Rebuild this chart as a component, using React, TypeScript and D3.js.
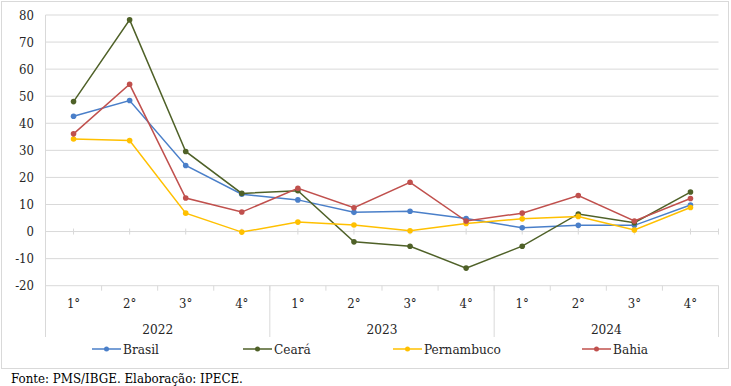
import * as d3 from "d3";

const years = ["2022", "2023", "2024"];
const quarters = ["1°", "2°", "3°", "4°"];
const yTicks = [-20, -10, 0, 10, 20, 30, 40, 50, 60, 70, 80];

const brasil = [42.6, 48.4, 24.4, 13.8, 11.7, 7.1, 7.5, 4.8, 1.4, 2.3, 2.3, 9.8];
const ceara = [48.0, 78.2, 29.6, 14.1, 15.1, -3.8, -5.4, -13.5, -5.4, 6.5, 3.3, 14.6];
const pernambuco = [34.2, 33.6, 6.8, -0.2, 3.5, 2.4, 0.3, 3.0, 4.7, 5.6, 0.6, 8.9];
const bahia = [36.1, 54.4, 12.4, 7.2, 16.0, 8.8, 18.2, 3.9, 6.8, 13.3, 3.9, 12.2];

const series = [
  { name: "Brasil", values: brasil, color: "#4a7fc9" },
  { name: "Ceará", values: ceara, color: "#4f6128" },
  { name: "Pernambuco", values: pernambuco, color: "#ffc000" },
  { name: "Bahia", values: bahia, color: "#c0504d" },
];

const legendX = [92, 243, 393, 582];

export default function App() {
  const width = 731;
  const height = 386;
  const left = 45.5;
  const right = 718.5;
  const serif = {
    fontFamily: "'DejaVu Serif Condensed', 'DejaVu Serif', serif",
    fontStretch: "condensed",
  };
  const grid = "#d9d9d9";
  const text = "#262626";

  const keys = years.flatMap((y) => quarters.map((q) => `${y}-${q}`));
  const x = d3.scaleBand().domain(keys).range([left, right]);
  const y = d3.scaleLinear().domain([-20, 80]).range([285.7, 15]);
  const bw = x.bandwidth();
  const cx = (i: number) => (x(keys[i]) as number) + bw / 2;

  const line = d3
    .line<number>()
    .x((_, i) => cx(i))
    .y((d) => y(d));

  const yearBounds = [0, 4, 8, 12].map((i) => left + i * bw);

  return (
    <svg
      width={width}
      height={height}
      style={{ position: "absolute", left: 0, top: 0 }}
    >
      <rect x={0} y={0} width={width} height={height} fill="#fff" />
      <rect x={1.5} y={1.5} width={727} height={367} fill="none" stroke={grid} />

      {yTicks.map((t) => (
        <g key={t}>
          <line x1={left} x2={right} y1={y(t)} y2={y(t)} stroke={grid} />
          <text
            x={34}
            y={y(t)}
            dy="0.35em"
            textAnchor="end"
            fontSize={13}
            fill={text}
            style={serif}
          >
            {t}
          </text>
        </g>
      ))}

      <line x1={left} x2={left} y1={y(80)} y2={337} stroke={grid} />
      {yearBounds.map((b, i) => (
        <line key={i} x1={b} x2={b} y1={y(-20)} y2={337} stroke={grid} />
      ))}
      {d3.range(13).map((i) => (
        <line
          key={i}
          x1={left + i * bw}
          x2={left + i * bw}
          y1={y(-20)}
          y2={y(-20) + 5}
          stroke={grid}
        />
      ))}
      {keys.map((_, i) => (
        <line
          key={i}
          x1={cx(i)}
          x2={cx(i)}
          y1={y(0) - 3}
          y2={y(0) + 3}
          stroke={grid}
        />
      ))}
      <line x1={right} x2={right} y1={y(0) - 3} y2={y(0) + 3} stroke={grid} />

      {keys.map((k, i) => (
        <text
          key={k}
          x={cx(i)}
          y={303}
          dy="0.35em"
          textAnchor="middle"
          fontSize={13}
          fill={text}
          style={serif}
        >
          {quarters[i % 4]}
        </text>
      ))}
      {years.map((yr, i) => (
        <text
          key={yr}
          x={(yearBounds[i] + yearBounds[i + 1]) / 2}
          y={329}
          dy="0.35em"
          textAnchor="middle"
          fontSize={13.5}
          fill={text}
          style={serif}
        >
          {yr}
        </text>
      ))}

      {series.map((s) => (
        <g key={s.name}>
          <path
            d={line(s.values) as string}
            fill="none"
            stroke={s.color}
            strokeWidth={1.5}
          />
          {s.values.map((v, i) => (
            <circle key={i} cx={cx(i)} cy={y(v)} r={2.8} fill={s.color} />
          ))}
        </g>
      ))}

      {series.map((s, i) => (
        <g key={s.name} transform={`translate(${legendX[i]},349)`}>
          <line x1={0} x2={29} y1={0} y2={0} stroke={s.color} strokeWidth={1.5} />
          <circle cx={14.5} cy={0} r={2.5} fill={s.color} />
          <text x={31} y={0} dy="0.35em" fontSize={13.5} fill={text} style={serif}>
            {s.name}
          </text>
        </g>
      ))}

      <text x={11} y={378} dy="0.35em" fontSize={13.2} fill="#000" style={serif}>
        Fonte: PMS/IBGE. Elaboração: IPECE.
      </text>
    </svg>
  );
}
